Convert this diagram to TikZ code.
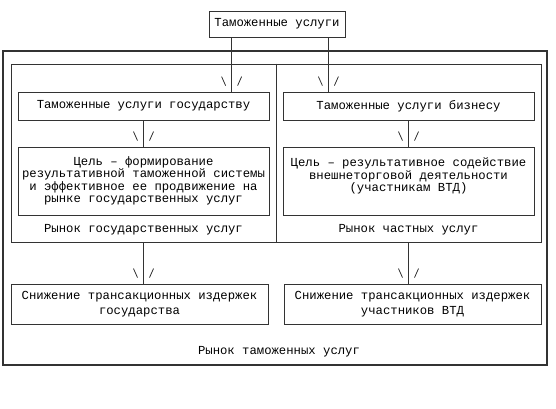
\documentclass[tikz,border=0pt]{standalone}
\usepackage{fontspec}
\usepackage{tikz}
\newfontfamily\monofont{Liberation Mono}

\begin{document}
\begin{tikzpicture}[
    x=0.75pt, y=-0.75pt,
    every node/.style={font=\monofont\fontsize{9.2}{11}\selectfont, inner sep=0pt, align=center},
    box/.style={draw=black!80, line width=0.6pt},
    link/.style={draw=black!80, line width=0.6pt},
]

\def\pxl{0.75pt}  % one pixel of the reference

\useasboundingbox (0,0) rectangle (556,409);

% ============================================================
% FRAMES
% ============================================================
\node[box, line width=0.9pt, minimum width=544*\pxl, minimum height=314*\pxl] (market) at (275,208) {};
\node[box, minimum width=530*\pxl, minimum height=178*\pxl] (inner) at (276,153) {};
\draw[link] (inner.north) -- (inner.south);

% ============================================================
% BOXES
% ============================================================
\node[box, minimum width=136*\pxl, minimum height=26*\pxl] (top) at (277,24) {Таможенные услуги};

\node[box, minimum width=251*\pxl, minimum height=28*\pxl] (state) at (143.5,106)
    {Таможенные услуги государству};
\node[box, minimum width=251*\pxl, minimum height=28*\pxl] (business) at (408.5,106)
    {Таможенные услуги бизнесу};

\node[box, minimum width=251*\pxl, minimum height=68*\pxl,
      font=\monofont\fontsize{9.2}{9.4}\selectfont] (goalG) at (143.5,181)
    {Цель – формирование\\
     результативной таможенной системы\\
     и эффективное ее продвижение на\\
     рынке государственных услуг};
\node[box, minimum width=251*\pxl, minimum height=68*\pxl,
      font=\monofont\fontsize{9.2}{9.4}\selectfont] (goalB) at (408.5,181)
    {Цель – результативное содействие\\
     внешнеторговой деятельности\\
     (участникам ВТД)\\
     \mbox{}};

\node (lblG) at (143.5,230) {Рынок государственных услуг};
\node (lblB) at (408.5,230) {Рынок частных услуг};

\node[box, minimum width=257*\pxl, minimum height=40*\pxl,
      font=\monofont\fontsize{9.2}{11.25}\selectfont] (costG) at (139.5,304)
    {Снижение трансакционных издержек\\
     государства};
\node[box, minimum width=257*\pxl, minimum height=40*\pxl,
      font=\monofont\fontsize{9.2}{11.25}\selectfont] (costB) at (412.5,304)
    {Снижение трансакционных издержек\\
     участников ВТД};

\node (lblAll) at (279,352) {Рынок таможенных услуг};

% ============================================================
% CONNECTORS
% ============================================================
\coordinate (t1) at ([xshift=23*\pxl]top.south west);
\coordinate (t2) at ([xshift=-17*\pxl]top.south east);

\draw[link] (t1) -- (t1 |- state.north) coordinate (e1);
\draw[link] (t2) -- (t2 |- business.north) coordinate (e2);
\draw[link] (state.south) -- (goalG.north) coordinate (e3);
\draw[link] (business.south) -- (goalB.north) coordinate (e4);
\draw[link] (state.south |- inner.south) -- (state.south |- costG.north) coordinate (e5);
\draw[link] (business.south |- inner.south) -- (business.south |- costB.north) coordinate (e6);

% "\ /" marks at the line ends
\foreach \e in {e1,e2,e3,e4,e5,e6} {
    \draw[link] ([shift={(-10,-15)}]\e) -- ([shift={(-6,-6)}]\e);
    \draw[link] ([shift={(10,-15)}]\e) -- ([shift={(6,-6)}]\e);
}

\end{tikzpicture}
\end{document}
